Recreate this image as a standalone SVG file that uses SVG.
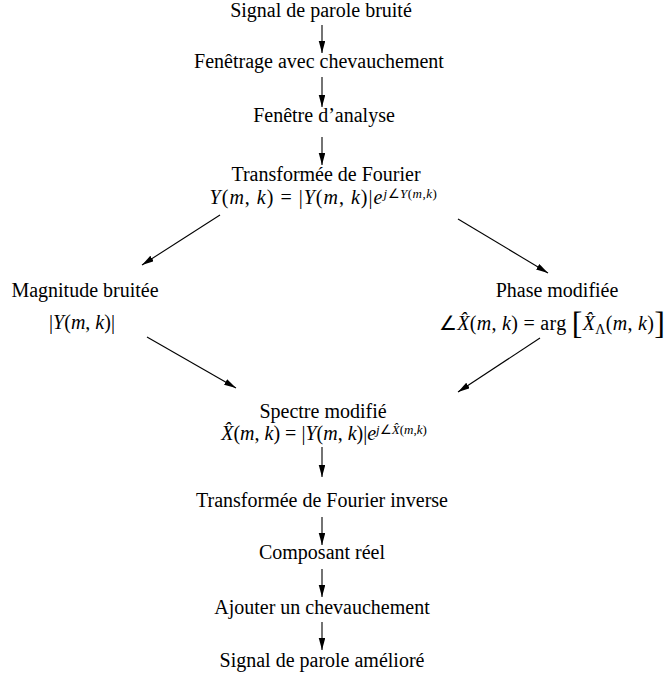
<svg xmlns="http://www.w3.org/2000/svg" width="672" height="677" viewBox="0 0 672 677">
<style>
text{font-family:"Liberation Serif","Times New Roman",serif;font-size:20px;fill:#000}
.c{text-anchor:middle}
.i{font-style:italic}
.sup{font-size:13px}
.big{font-size:32px;font-weight:normal}
.conn line{stroke:#000;stroke-width:1.1;fill:none}
</style>
<defs>
<marker id="ah" markerUnits="userSpaceOnUse" markerWidth="13" markerHeight="8" refX="12" refY="3.25" orient="auto">
<path d="M0,0 L12,3.25 L0,6.5 z" fill="#000"/>
</marker>
</defs>
<g id="n1"><text class="c" x="321" y="17">Signal de parole bruité</text></g>
<g id="n2"><text class="c" x="319" y="68">Fenêtrage avec chevauchement</text></g>
<g id="n3"><text class="c" x="324" y="122">Fenêtre d’analyse</text></g>
<g id="n4"><text class="c" x="326" y="181">Transformée de Fourier</text>
<text class="c" x="323.5" y="204" letter-spacing="1"><tspan class="i">Y</tspan>(<tspan class="i">m</tspan>, <tspan class="i">k</tspan>) = |<tspan class="i">Y</tspan>(<tspan class="i">m</tspan>, <tspan class="i">k</tspan>)|<tspan class="i">e</tspan><tspan class="sup" dy="-6" letter-spacing="0.5"><tspan class="i">j</tspan>∠<tspan class="i">Y</tspan>(<tspan class="i">m</tspan>,<tspan class="i">k</tspan>)</tspan></text></g>
<g id="n5"><text class="c" x="85" y="297">Magnitude bruitée</text>
<text class="c" x="82" y="329">|<tspan class="i">Y</tspan>(<tspan class="i">m</tspan>, <tspan class="i">k</tspan>)|</text></g>
<g id="n6"><text class="c" x="557" y="297">Phase modifiée</text>
<text class="c" x="552" y="330" letter-spacing="0.3">∠<tspan class="i">X̂</tspan>(<tspan class="i">m</tspan>, <tspan class="i">k</tspan>) = arg <tspan class="big" dy="4">[</tspan><tspan class="i" dy="-4">X̂</tspan><tspan font-size="14px" dy="4">Λ</tspan><tspan dy="-4">(</tspan><tspan class="i">m</tspan>, <tspan class="i">k</tspan>)<tspan class="big" dy="4">]</tspan></text></g>
<g id="n7"><text class="c" x="323" y="418">Spectre modifié</text>
<text class="c" x="324" y="440"><tspan class="i">X̂</tspan>(<tspan class="i">m</tspan>, <tspan class="i">k</tspan>) = |<tspan class="i">Y</tspan>(<tspan class="i">m</tspan>, <tspan class="i">k</tspan>)|<tspan class="i">e</tspan><tspan class="sup" dy="-6"><tspan class="i">j</tspan>∠<tspan class="i">X̂</tspan>(<tspan class="i">m</tspan>,<tspan class="i">k</tspan>)</tspan></text></g>
<g id="n8"><text class="c" x="322" y="507">Transformée de Fourier inverse</text></g>
<g id="n9"><text class="c" x="322" y="559">Composant réel</text></g>
<g id="n10"><text class="c" x="322" y="614">Ajouter un chevauchement</text></g>
<g id="n11"><text class="c" x="322" y="667">Signal de parole amélioré</text></g>
<g id="connectors" class="conn">
<line x1="322" y1="25" x2="322" y2="53" marker-end="url(#ah)"/>
<line x1="322" y1="77" x2="322" y2="107" marker-end="url(#ah)"/>
<line x1="322" y1="137" x2="322" y2="165" marker-end="url(#ah)"/>
<line x1="220" y1="215" x2="142" y2="265" marker-end="url(#ah)"/>
<line x1="458" y1="219" x2="548" y2="273" marker-end="url(#ah)"/>
<line x1="147" y1="337" x2="236" y2="388" marker-end="url(#ah)"/>
<line x1="540" y1="338" x2="458" y2="392" marker-end="url(#ah)"/>
<line x1="322" y1="447" x2="322" y2="477" marker-end="url(#ah)"/>
<line x1="322" y1="517" x2="322" y2="545" marker-end="url(#ah)"/>
<line x1="322" y1="569" x2="322" y2="597" marker-end="url(#ah)"/>
<line x1="322" y1="622" x2="322" y2="650" marker-end="url(#ah)"/>
</g>
</svg>
